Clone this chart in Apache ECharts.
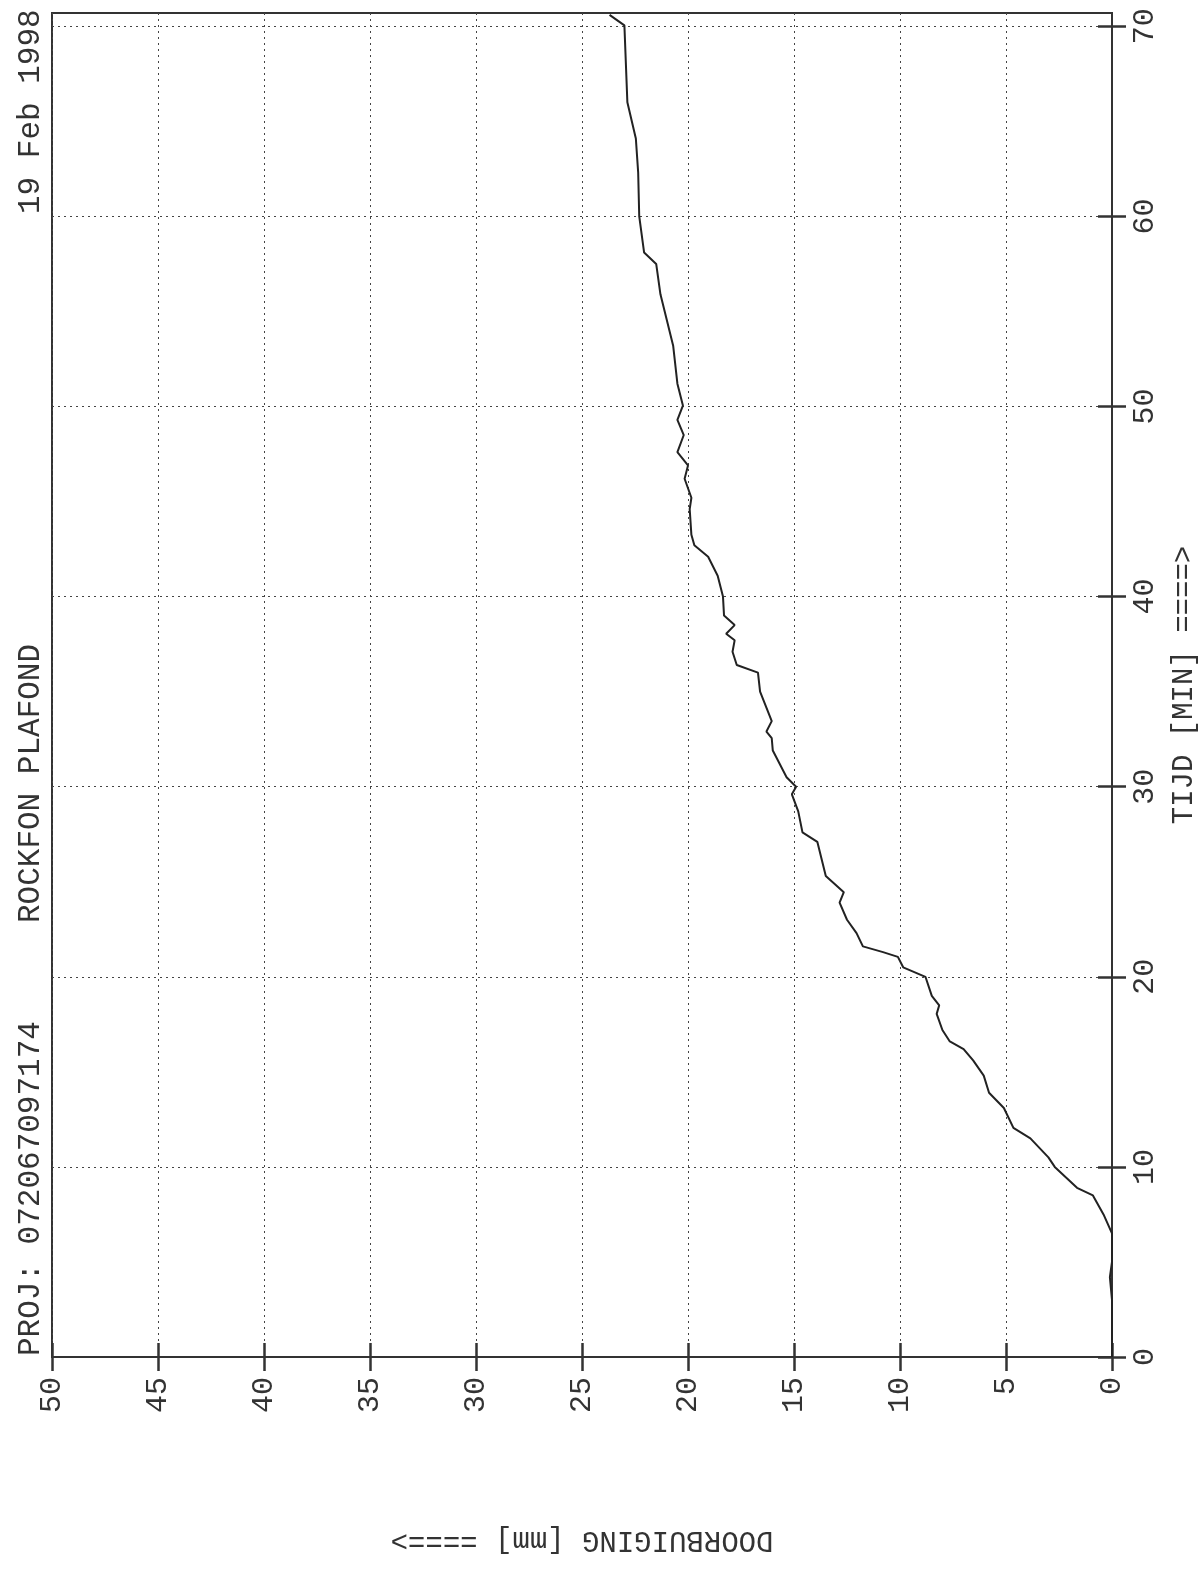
<!DOCTYPE html>
<html>
<head>
<meta charset="UTF-8">
<title>ROCKFON PLAFOND</title>
<script src="https://cdn.jsdelivr.net/npm/echarts@6/dist/echarts.min.js"></script>
<style type="text/css">
	html, body { margin: 0; padding: 0; background: #fff; }
	#main { width: 1199px; height: 1582px; }
</style>
</head>
<body>
<div id="main"></div>
<script type="text/javascript">
// tijd [min]
var tijd = [0, 3, 4.2, 5, 6.5, 7.5, 8.5, 8.9, 10.0, 10.5, 11.5, 12.05, 13.1, 13.9, 14.8, 15.6, 16.2, 16.6, 17.2, 18.05,
	18.5, 19.0, 20.0, 20.5, 21.05, 21.3, 21.6, 22.3, 23.0, 23.9, 24.45, 25.3, 27.1, 27.6, 28.7, 29.6, 30.0, 30.5,
	31.9, 32.55, 32.9, 33.45, 35.0, 36.0, 36.4, 37.1, 37.7, 38.05, 38.5, 39.0, 40.0, 41.1, 42.1, 42.7, 43.25, 44.6,
	45.2, 46.2, 46.9, 47.6, 48.5, 49.3, 50.05, 51.2, 53.2, 55.9, 57.5, 58.1, 60.0, 62.3, 64.1, 66.0, 70.05, 70.6];
// doorbuiging [mm]
var doorbuiging = [0, 0, 0.1, 0, 0, 0.4, 0.9, 1.65, 2.7, 3.0, 3.85, 4.65, 5.1, 5.8, 6.05, 6.55, 7.0, 7.65, 8.0, 8.27,
	8.15, 8.5, 8.8, 9.85, 10.1, 10.8, 11.75, 12.05, 12.5, 12.85, 12.65, 13.5, 13.9, 14.6, 14.8, 15.1, 14.9, 15.35,
	16.0, 16.05, 16.3, 16.05, 16.6, 16.7, 17.7, 17.9, 17.8, 18.2, 17.8, 18.3, 18.35, 18.6, 19.05, 19.7, 19.84, 19.92,
	19.84, 20.16, 20.0, 20.5, 20.2, 20.5, 20.24, 20.5, 20.7, 21.3, 21.5, 22.07, 22.3, 22.35, 22.46, 22.86, 23.0, 23.7];
// tikjes op de tijd-as
var tijdTicks = [0, 10, 20, 30, 40, 50, 60, 70];

var font = '"Liberation Mono", "DejaVu Sans Mono", monospace';
var ink = '#333';

var punten = [];
for (var i = 0; i < tijd.length; i++) {
	punten.push([doorbuiging[i], tijd[i]]);
}

var myChart = echarts.init(document.getElementById('main'));

// gedeelde stijl voor de rasterlijnen en tikjes
var dotted = { show: true, lineStyle: { color: '#444', type: [2, 4], width: 1 } };
var ticks = { show: true, inside: true, length: 14, lineStyle: { color: ink, width: 2.5 } };
var tijdTickStyle = { show: true, inside: true, length: 14, customValues: tijdTicks, lineStyle: { color: ink, width: 2.5 } };

var option = {
	animation: false,
	backgroundColor: '#fff',
	grid: {
		left: 52, right: 87, top: 13, bottom: 225,
		outerBoundsMode: 'none',
		containLabel: false,
		show: true, borderColor: ink, borderWidth: 2
	},
	xAxis: [
		{
			type: 'value', min: 0, max: 50, interval: 5, inverse: true, position: 'bottom',
			axisLine: { show: true, lineStyle: { color: ink, width: 2 } },
			axisTick: ticks,
			splitLine: dotted,
			axisLabel: { rotate: 90, margin: 20, fontSize: 30, fontFamily: font, color: ink },
			name: 'DOORBUIGING [mm] ====>',
			nameLocation: 'middle', nameGap: 168, nameRotate: 180,
			nameTextStyle: { fontSize: 29, fontFamily: font, color: ink }
		},
		{
			type: 'value', min: 0, max: 50, interval: 5, inverse: true, position: 'top',
			axisLine: { show: false }, axisTick: ticks, axisLabel: { show: false }, splitLine: { show: false }
		}
	],
	yAxis: [
		{
			type: 'value', min: 0, max: 70.7, interval: 10, position: 'right',
			axisLine: { show: true, lineStyle: { color: ink, width: 2 } },
			axisTick: tijdTickStyle,
			splitLine: dotted,
			axisLabel: { rotate: 90, margin: 18, fontSize: 30, fontFamily: font, color: ink, showMaxLabel: false },
			name: 'TIJD [MIN] ====>',
			nameLocation: 'middle', nameGap: 58, nameRotate: 90,
			nameTextStyle: { fontSize: 29, fontFamily: font, color: ink }
		},
		{
			type: 'value', min: 0, max: 70.7, interval: 10, position: 'left',
			axisLine: { show: false }, axisTick: tijdTickStyle, axisLabel: { show: false }, splitLine: { show: false }
		}
	],
	graphic: [
		{ type: 'text', x: 31, y: 1356, rotation: Math.PI / 2,
		  style: { text: 'PROJ: 072067097174', fontSize: 31, fontFamily: font, fill: ink, align: 'left', verticalAlign: 'middle' } },
		{ type: 'text', x: 31, y: 923, rotation: Math.PI / 2,
		  style: { text: 'ROCKFON PLAFOND', fontSize: 31, fontFamily: font, fill: ink, align: 'left', verticalAlign: 'middle' } },
		{ type: 'text', x: 31, y: 214, rotation: Math.PI / 2,
		  style: { text: '19 Feb 1998', fontSize: 31, fontFamily: font, fill: ink, align: 'left', verticalAlign: 'middle' } }
	],
	series: [
		{
			name: 'doorbuiging',
			type: 'line',
			xAxisIndex: 0,
			yAxisIndex: 0,
			showSymbol: false,
			lineStyle: { color: '#222', width: 2 },
			data: punten
		}
	]
};

myChart.setOption(option);
</script>
</body>
</html>
